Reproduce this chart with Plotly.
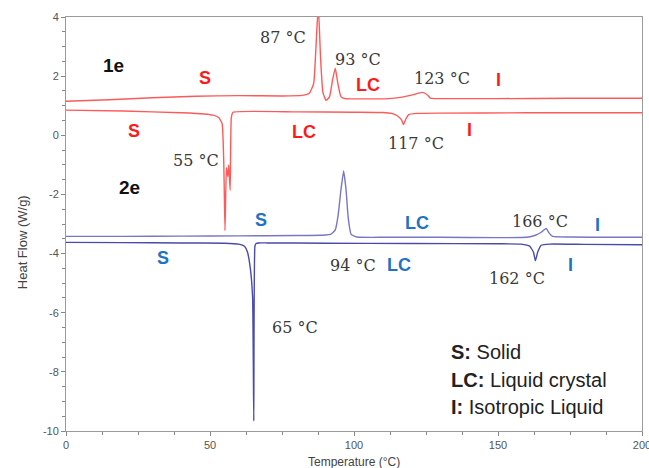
import plotly.graph_objects as go

# ---- data ----
t_1e_heat = [0, 15, 30, 45, 60, 75, 82, 84.5, 86, 86.8, 87.6, 88.4, 89.2, 90.3, 91.5, 92.6, 93.5,
             94.4, 95.5, 97, 105, 112, 116, 120, 123.8, 125.3, 126.5, 130, 150, 175, 200]
hf_1e_heat = [1.15, 1.2, 1.27, 1.32, 1.34, 1.33, 1.35, 1.42, 1.75, 3.0, 4.4, 2.6, 1.45, 1.18, 1.3, 1.9, 2.27,
              1.75, 1.3, 1.24, 1.23, 1.24, 1.28, 1.36, 1.45, 1.38, 1.26, 1.24, 1.24, 1.25, 1.25]

t_1e_cool = [0, 20, 40, 48, 51, 53, 54.2, 54.8, 55.2, 55.7, 56.2, 56.5, 57.0, 57.4, 58, 80, 100, 110,
             113, 115, 116.5, 117.2, 118, 119, 122, 130, 160, 200]
hf_1e_cool = [0.85, 0.82, 0.76, 0.72, 0.68, 0.6, 0.4, -1.0, -3.22, -1.1, -1.4, -1.0, -1.86, 0.6, 0.78, 0.79, 0.78, 0.77,
              0.74, 0.66, 0.52, 0.36, 0.55, 0.7, 0.74, 0.75, 0.76, 0.76]

t_2e_heat = [0, 20, 40, 60, 80, 90, 92, 93.5, 94.5, 95.4, 96.4, 97.2, 98, 99, 101, 110, 130, 150, 160,
             163, 165, 166.7, 167.7, 169, 175, 190, 200]
hf_2e_heat = [-3.42, -3.42, -3.41, -3.40, -3.39, -3.37, -3.34, -3.2, -2.7, -1.9, -1.21, -1.8, -2.8, -3.35, -3.44,
              -3.45, -3.45, -3.46, -3.45, -3.38, -3.28, -3.15, -3.3, -3.42, -3.44, -3.45, -3.45]

t_2e_cool = [0, 20, 40, 55, 60, 62, 63, 64, 64.8, 65.2, 65.6, 66, 67, 70, 90, 120, 150, 158, 161,
             162.3, 163, 163.8, 165, 168, 180, 200]
hf_2e_cool = [-3.62, -3.63, -3.64, -3.65, -3.68, -3.75, -3.95, -4.5, -5.5, -9.66, -3.75, -3.66, -3.64, -3.64,
              -3.65, -3.66, -3.67, -3.68, -3.75, -3.95, -4.24, -3.95, -3.72, -3.68, -3.69, -3.7]

y_tick_vals = [4, 2, 0, -2, -4, -6, -8, -10]
y_tick_text = ["4", "2", "0", "-2", "-4", "-6", "-8", "-10"]
x_tick_vals = [0, 50, 100, 150, 200]
x_tick_text = ["0", "50", "100", "150", "200"]

temp_labels = ["87 °C", "93 °C", "123 °C", "117 °C", "55 °C", "94 °C", "166 °C", "162 °C", "65 °C"]
temp_x = [75.5, 101.5, 130.5, 121.5, 45.0, 99.5, 164.5, 156.5, 79.5]
temp_y = [3.32, 2.55, 1.93, -0.27, -0.85, -4.4, -2.9, -4.85, -6.5]

phase_red = ["S", "LC", "I", "S", "LC", "I"]
phase_red_x = [48.3, 105.0, 150.0, 23.6, 82.6, 140.0]
phase_red_y = [1.93, 1.69, 1.86, 0.15, 0.1, 0.17]

phase_blue = ["S", "LC", "I", "S", "LC", "I"]
phase_blue_x = [67.7, 122.0, 184.7, 33.7, 115.5, 175.3]
phase_blue_y = [-2.88, -2.95, -3.05, -4.14, -4.4, -4.4]

sample_names = ["1e", "2e"]
sample_x = [16.5, 22.0]
sample_y = [2.37, -1.76]

legend_lines = ["<b>S:</b> Solid", "<b>LC:</b> Liquid crystal", "<b>I:</b> Isotropic Liquid"]
legend_y = [-7.33, -8.28, -9.19]

RED_LINE = "#ff5a5a"
BLUE_UP = "#7777c4"
BLUE_LO = "#4a4aaa"
RED_TXT = "#ff1a1a"
BLUE_TXT = "#1f72c4"

fig = go.Figure()
line_kw = dict(shape="spline", smoothing=0.4)
fig.add_trace(go.Scatter(x=t_1e_heat, y=hf_1e_heat, mode="lines",
                         line=dict(color=RED_LINE, width=1.4, **line_kw)))
fig.add_trace(go.Scatter(x=t_1e_cool, y=hf_1e_cool, mode="lines",
                         line=dict(color=RED_LINE, width=1.4, **line_kw)))
fig.add_trace(go.Scatter(x=t_2e_heat, y=hf_2e_heat, mode="lines",
                         line=dict(color=BLUE_UP, width=1.4, **line_kw)))
fig.add_trace(go.Scatter(x=t_2e_cool, y=hf_2e_cool, mode="lines",
                         line=dict(color=BLUE_LO, width=1.4, **line_kw)))

ann = []
for txt, x, y in zip(temp_labels, temp_x, temp_y):
    ann.append(dict(x=x, y=y, text=txt, showarrow=False, xref="x", yref="y",
                    font=dict(family="DejaVu Serif", size=16, color="#3a3a3a")))
for txt, x, y in zip(phase_red, phase_red_x, phase_red_y):
    ann.append(dict(x=x, y=y, text="<b>%s</b>" % txt, showarrow=False, xref="x", yref="y",
                    font=dict(family="Liberation Sans", size=18, color=RED_TXT)))
for txt, x, y in zip(phase_blue, phase_blue_x, phase_blue_y):
    ann.append(dict(x=x, y=y, text="<b>%s</b>" % txt, showarrow=False, xref="x", yref="y",
                    font=dict(family="Liberation Sans", size=18, color=BLUE_TXT)))
for txt, x, y in zip(sample_names, sample_x, sample_y):
    ann.append(dict(x=x, y=y, text="<b>%s</b>" % txt, showarrow=False, xref="x", yref="y",
                    font=dict(family="Liberation Sans", size=19, color="#111111")))
for txt, y in zip(legend_lines, legend_y):
    ann.append(dict(x=133.0, y=y, text=txt, showarrow=False, xref="x", yref="y", xanchor="left",
                    font=dict(family="Liberation Sans", size=20, color="#222222")))

ann.append(dict(x=0.5, y=0, xref="paper", yref="paper", yshift=-31, yanchor="middle",
                text="Temperature (°C)", showarrow=False,
                font=dict(family="Liberation Sans", size=12, color="#444444")))
ann.append(dict(x=0, y=0.456, xref="paper", yref="paper", xshift=-44, xanchor="center",
                yanchor="middle", textangle=-90,
                text="Heat Flow (W/g)", showarrow=False,
                font=dict(family="Liberation Sans", size=13, color="#444444")))

axis_common = dict(showline=True, linecolor="#9a9a9a", linewidth=1, mirror=True,
                   ticks="outside", ticklen=4, tickcolor="#888888", showgrid=False, zeroline=False,
                   ticklabeloverflow="allow", automargin=False,
                   tickfont=dict(family="Liberation Sans", size=11, color="#555555"))

fig.update_layout(
    width=649, height=468,
    margin=dict(l=66, r=7, t=17, b=37, autoexpand=False),
    paper_bgcolor="white", plot_bgcolor="white",
    showlegend=False,
    annotations=ann,
    xaxis=dict(range=[0, 200], tickvals=x_tick_vals, ticktext=x_tick_text,
               minor=dict(dtick=12.5, ticks="outside", ticklen=3, tickcolor="#888888"),
               **axis_common),
    yaxis=dict(range=[-10, 4], tickvals=y_tick_vals, ticktext=y_tick_text,
               minor=dict(dtick=0.5, ticks="outside", ticklen=3, tickcolor="#888888"),
               **axis_common),
)

fig.write_html("out.html")
